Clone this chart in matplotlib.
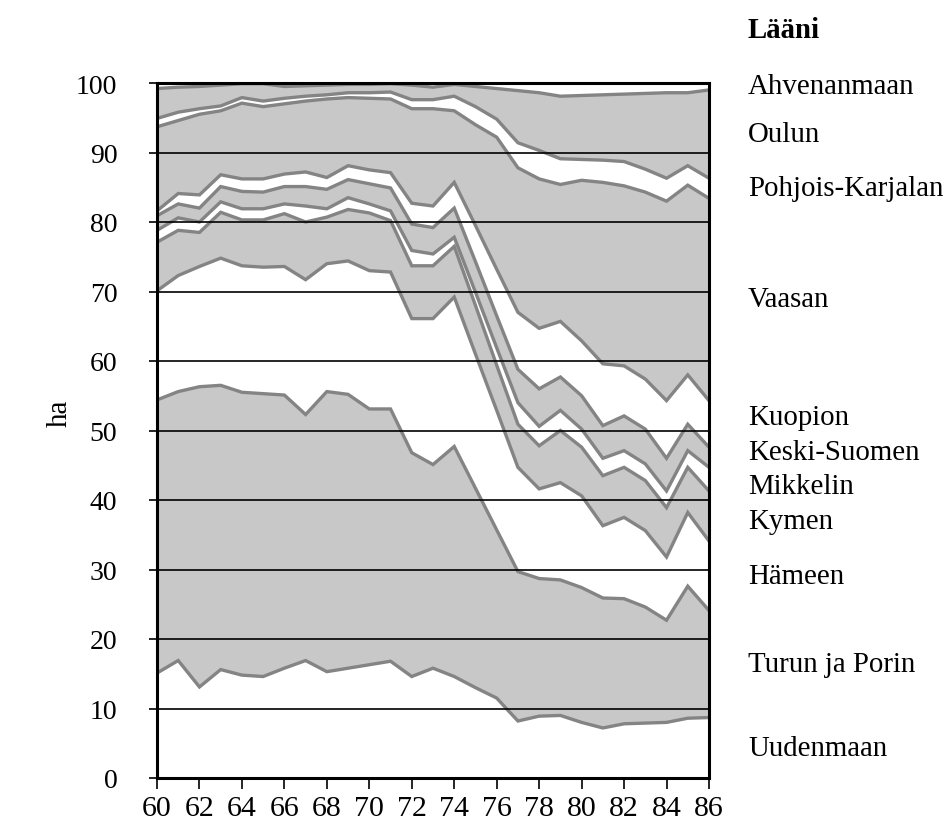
import numpy as np
import matplotlib
matplotlib.use("Agg")
import matplotlib.pyplot as plt
from matplotlib.transforms import blended_transform_factory

years = list(range(1960, 1987))
year_labels = [str(y % 100) for y in years[::2]]

uudenmaan = [15.1,16.9,13.1,15.6,14.8,14.6,15.8,16.9,15.3,15.8,16.3,16.8,14.6,15.8,14.6,13.0,11.5,8.2,8.9,9.0,8.0,7.2,7.8,7.9,8.0,8.6,8.7]
turun_ja_porin = [39.3,38.7,43.2,40.9,40.7,40.7,39.3,35.4,40.3,39.4,36.8,36.3,32.2,29.3,33.1,28.7,24.2,21.5,19.8,19.5,19.4,18.7,18.0,16.7,14.7,19.0,15.4]
hameen = [15.7,16.7,17.3,18.3,18.2,18.2,18.5,19.4,18.4,19.2,19.9,19.7,19.3,21.0,21.5,19.3,17.2,15.0,12.9,14.0,13.2,10.4,11.7,11.0,9.1,10.6,10.0]
kymen = [7.0,6.5,4.9,6.6,6.6,6.8,7.6,8.3,6.7,7.4,8.3,7.4,7.6,7.6,7.3,7.0,6.5,6.2,6.2,7.5,7.0,7.2,7.2,7.2,7.1,6.5,7.2]
mikkelin = [1.7,1.8,1.5,1.5,1.6,1.6,1.4,2.3,1.2,1.7,1.3,1.4,2.2,1.7,1.3,1.9,2.5,3.1,2.8,2.9,2.6,2.5,2.4,2.4,2.4,2.4,3.4]
keski_suomen = [2.1,2.0,2.0,2.2,2.5,2.4,2.5,2.8,2.8,2.6,2.9,3.3,3.8,3.8,4.2,4.4,4.6,4.8,5.4,4.8,4.8,4.7,5.0,5.0,4.7,3.8,2.9]
kuopion = [0.7,1.5,1.9,1.7,1.8,1.9,1.8,2.1,1.7,2.0,2.0,2.2,3.0,3.1,3.7,5.2,6.7,8.2,8.7,8.0,7.9,8.9,7.2,7.2,8.3,7.1,6.7]
vaasan = [12.1,10.5,11.6,9.2,10.9,10.4,10.1,10.2,11.3,9.8,10.3,10.6,13.6,14.0,10.3,14.5,19.0,20.8,21.5,19.7,23.1,26.1,25.9,26.9,28.7,27.3,29.1]
pohjois_karjalan = [1.2,1.2,0.8,0.7,0.8,0.8,0.8,0.7,0.6,0.7,0.8,1.0,1.3,1.3,2.1,2.6,2.6,3.6,4.1,3.7,3.0,3.2,3.5,3.3,3.3,2.8,2.9]
oulun = [4.3,3.6,3.2,3.0,2.0,2.5,1.7,1.5,1.4,1.2,1.2,1.2,2.1,1.8,1.7,2.9,4.4,7.5,8.3,9.0,9.2,9.4,9.7,10.9,12.3,10.5,12.7]
ahvenanmaan = [0.8,0.6,0.5,0.3,0.1,0.1,0.5,0.4,0.3,0.2,0.2,0.1,0.3,0.6,0.2,0.5,0.8,1.1,1.4,1.9,1.8,1.7,1.6,1.5,1.4,1.4,1.0]

series_names = ["Uudenmaan", "Turun ja Porin", "Hämeen", "Kymen", "Mikkelin",
                "Keski-Suomen", "Kuopion", "Vaasan", "Pohjois-Karjalan", "Oulun",
                "Ahvenanmaan"]
series = [uudenmaan, turun_ja_porin, hameen, kymen, mikkelin, keski_suomen,
          kuopion, vaasan, pohjois_karjalan, oulun, ahvenanmaan]

y_ticks = [0, 10, 20, 30, 40, 50, 60, 70, 80, 90, 100]
legend_title = "Lääni"
y_label = "ha"

plt.rcParams['font.family'] = ['Liberation Serif', 'DejaVu Serif']

W, H = 946, 837
fig = plt.figure(figsize=(W / 100, H / 100), dpi=100)
ax = fig.add_axes([157 / W, 1 - 779 / H, (709 - 157) / W, (779 - 84) / H])

x = np.array(years) - 1900
fill_gray = "#c8c8c8"
line_gray = "#848484"
colors = ["white" if i % 2 == 0 else fill_gray for i in range(len(series))]
ax.stackplot(x, *series, colors=colors, linewidth=0, zorder=1)

cum = np.cumsum(np.array(series), axis=0)
for row in cum[:-1]:
    ax.plot(x, row, color=line_gray, lw=2.4, solid_joinstyle='miter', zorder=2)

for yv in y_ticks[1:-1]:
    ax.axhline(yv, color="black", lw=1.2, zorder=3)

ax.set_xlim(60, 86)
ax.set_ylim(0, 100)
ax.set_xticks(x[::2])
ax.set_xticklabels(year_labels)
ax.set_yticks(y_ticks)
for s in ax.spines.values():
    s.set_linewidth(2.2)
    s.set_zorder(4)
ax.tick_params(axis='y', direction='out', length=5.5, width=1.2, pad=23, labelsize=20)
ax.tick_params(axis='x', direction='out', length=8, width=1.2, pad=4, labelsize=21.5)

fig.text(60 / W, 1 - 413 / H, y_label, rotation=90, ha='center', va='center', fontsize=21)

# right-side labels at middle of each band at the final year, spread to avoid overlap
last = np.array([s[-1] for s in series])
mids = np.cumsum(last) - last / 2
pos = mids.copy()
gap = 5.0
for _ in range(200):
    moved = False
    for i in range(1, len(pos)):
        if pos[i] - pos[i - 1] < gap:
            d = (gap - (pos[i] - pos[i - 1])) / 2
            pos[i] += d
            pos[i - 1] -= d
            moved = True
    if not moved:
        break
pos = np.minimum(pos, 100)
trans = blended_transform_factory(fig.transFigure, ax.transData)
for name, p in zip(series_names, pos):
    ax.text(748 / W, p, name, transform=trans, ha='left', va='center',
            fontsize=20.8, clip_on=False)
fig.text(748 / W, 1 - 31 / H, legend_title, ha='left', va='center',
         fontsize=20.8, fontweight='bold')

fig.savefig("out.png", dpi=100)
